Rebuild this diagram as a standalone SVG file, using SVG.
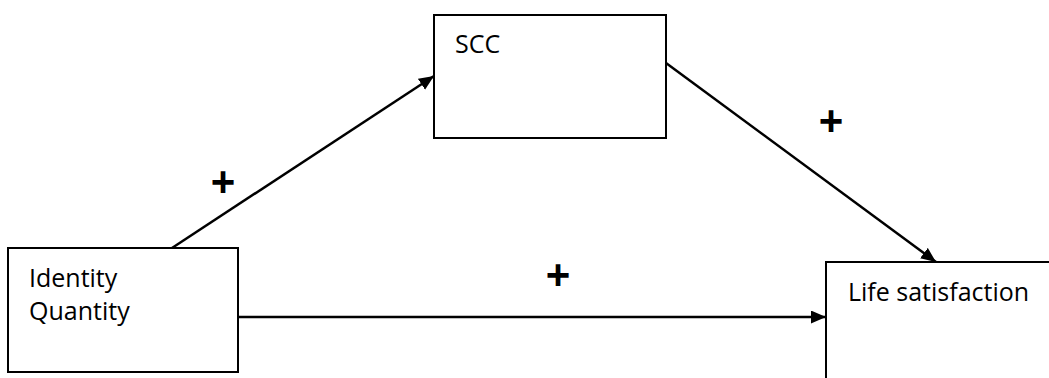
<svg xmlns="http://www.w3.org/2000/svg" width="1049" height="378" viewBox="0 0 1049 378">
  <defs>
    <marker id="arrow" markerUnits="userSpaceOnUse" markerWidth="17" markerHeight="14" refX="15" refY="6.5" orient="auto">
      <path d="M0,0 L15,6.5 L0,13 Z" fill="#000"/>
    </marker>
  </defs>
  <style>
    .box { fill: #fff; stroke: #000; stroke-width: 2; }
    .label { font-family: "Open Sans", "Noto Sans", sans-serif; font-size: 25px; fill: #000; }
    .sign { font-family: "Liberation Sans", Arial, sans-serif; font-size: 42px; font-weight: bold; fill: #000; text-anchor: middle; }
    .edge { stroke: #000; stroke-width: 2.5; fill: none; marker-end: url(#arrow); }
  </style>
  <rect width="1049" height="378" fill="#fff"/>

  <g id="connectors">
    <line class="edge" x1="172" y1="248" x2="434" y2="76"/>
    <line class="edge" x1="666" y1="63" x2="936" y2="262"/>
    <line class="edge" x1="238" y1="317" x2="826" y2="317"/>
    <text class="sign" x="223" y="196">+</text>
    <text class="sign" x="831" y="135">+</text>
    <text class="sign" x="558" y="289">+</text>
  </g>

  <g id="identity-quantity">
    <rect class="box" x="8" y="248" width="230" height="124"/>
    <text class="label" x="29" y="287">Identity</text>
    <text class="label" x="29" y="320">Quantity</text>
  </g>

  <g id="scc">
    <rect class="box" x="434" y="15" width="232" height="123"/>
    <text class="label" x="455" y="53">SCC</text>
  </g>

  <g id="life-satisfaction">
    <rect class="box" x="826" y="262" width="240" height="130"/>
    <text class="label" x="848" y="301">Life satisfaction</text>
  </g>
</svg>
